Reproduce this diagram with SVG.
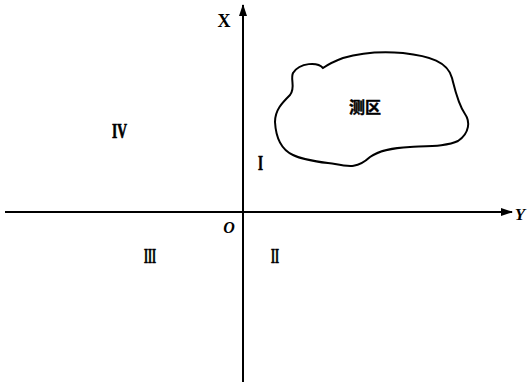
<svg xmlns="http://www.w3.org/2000/svg" width="532" height="382" viewBox="0 0 532 382">
<style>
.ax{stroke:#000;stroke-width:2;fill:none}
.lbl{font-family:"Liberation Serif","Times New Roman",serif;font-weight:bold;fill:#000}
.it{font-style:italic}
.rn{font-size:20px;stroke:#000;stroke-width:0.7}
</style>
<defs>
<marker id="ah" markerWidth="12" markerHeight="8" refX="11" refY="4" orient="auto" markerUnits="userSpaceOnUse">
<path d="M0,0 L12,4 L0,8 Z" fill="#000"/>
</marker>
</defs>
<rect width="532" height="382" fill="#fff"/>
<g id="axes">
<line class="ax" x1="243" y1="382" x2="243" y2="5" marker-end="url(#ah)"/>
<line class="ax" x1="5" y1="212" x2="512" y2="212" marker-end="url(#ah)"/>
</g>
<g id="area">
<path class="ax" stroke-width="3" d="M323,68 C318,62 300,62 293,73 C290,80 296,87 290,95 C282,103 275,110 275,122 C276,140 282,150 293,155 C305,161 320,162 335,164 C350,167 358,168 370,157 C380,150 393,148 410,147 C430,146 448,146 458,141 C470,133 470,121 465,114 C458,104 455,90 452,78 C448,62 430,56 403,53 C380,51 360,53 343,58 C335,61 330,63 323,68 Z"/>
<text x="365" y="113" font-size="16" font-weight="bold" text-anchor="middle" font-family="'Noto Sans CJK SC',sans-serif" stroke="#000" stroke-width="0.4">测区</text>
</g>
<g id="labels">
<text class="lbl" x="224" y="27" font-size="18" text-anchor="middle">X</text>
<text class="lbl it" x="520" y="220" font-size="17" text-anchor="middle">Y</text>
<text class="lbl it" x="229" y="233" font-size="16" text-anchor="middle">O</text>
<text class="lbl rn" x="258" y="170" textLength="5" lengthAdjust="spacingAndGlyphs">I</text>
<text class="lbl rn" x="271" y="263" textLength="8" lengthAdjust="spacingAndGlyphs">II</text>
<text class="lbl rn" x="144" y="263" textLength="12" lengthAdjust="spacingAndGlyphs">III</text>
<text class="lbl rn" x="112" y="138" textLength="15" lengthAdjust="spacingAndGlyphs">IV</text>
</g>
</svg>
